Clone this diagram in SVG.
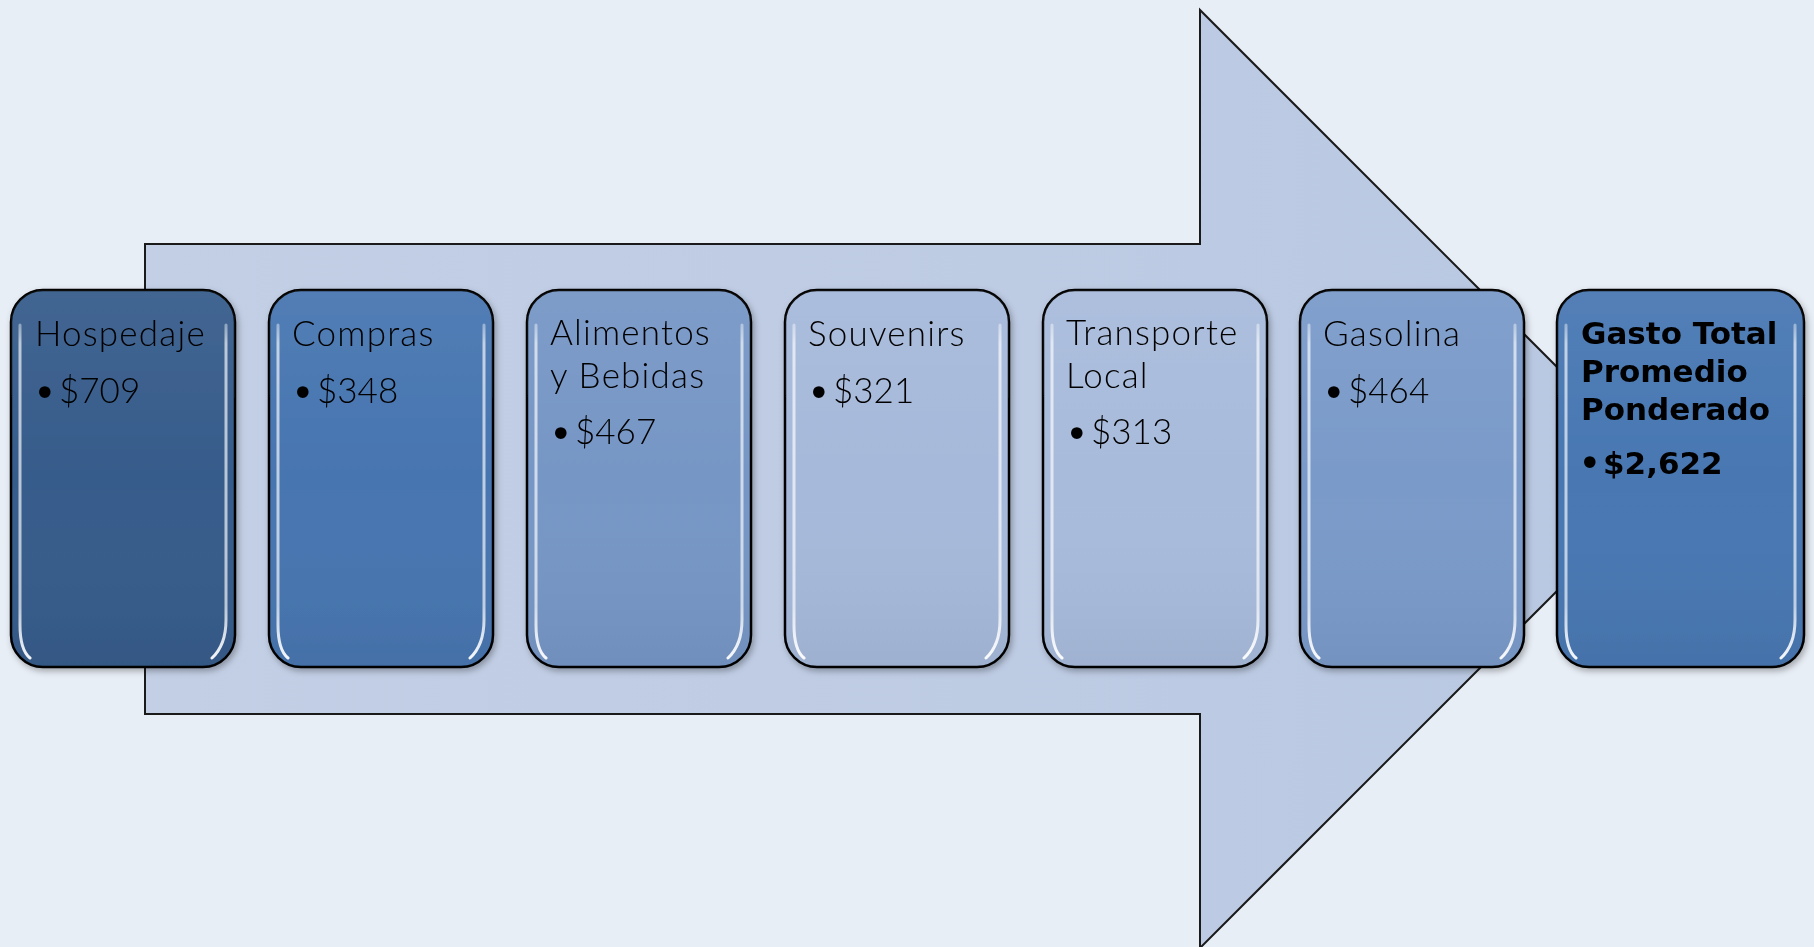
<svg xmlns="http://www.w3.org/2000/svg" width="1814" height="947" viewBox="0 0 1814 947">
<defs>
<style>
.lbl{font-family:Lato,"Open Sans","Liberation Sans",sans-serif;font-weight:300;font-size:35px;fill:#000}
.hd{letter-spacing:1.2px}
.bul{font-family:"DejaVu Sans",sans-serif;font-weight:normal;font-size:40px;letter-spacing:0}
.bold{font-family:"DejaVu Sans",sans-serif;font-weight:bold;font-size:31px;fill:#000}
.box{stroke:#000;stroke-width:2.5}
.hl{fill:none;stroke:url(#hlg);stroke-width:3;stroke-linecap:round}
</style>
<linearGradient id="arrowg" x1="0" y1="0" x2="1" y2="0">
<stop offset="0" stop-color="#c3cfe5"/>
<stop offset="1" stop-color="#b9c8e2"/>
</linearGradient>
<linearGradient id="hlg" gradientUnits="userSpaceOnUse" x1="0" y1="300" x2="0" y2="660">
<stop offset="0" stop-color="#ffffff" stop-opacity="0.1"/>
<stop offset="0.12" stop-color="#ffffff" stop-opacity="0.65"/>
<stop offset="0.85" stop-color="#ffffff" stop-opacity="0.65"/>
<stop offset="1" stop-color="#ffffff" stop-opacity="0.95"/>
</linearGradient>
<linearGradient id="shade" x1="0" y1="0" x2="0" y2="1">
<stop offset="0" stop-color="#ffffff" stop-opacity="0.06"/>
<stop offset="0.5" stop-color="#ffffff" stop-opacity="0"/>
<stop offset="1" stop-color="#000000" stop-opacity="0.05"/>
</linearGradient>
<filter id="sh" x="-10%" y="-10%" width="120%" height="120%">
<feDropShadow dx="2" dy="3" stdDeviation="3" flood-color="#000" flood-opacity="0.3"/>
</filter>
</defs>
<rect width="1814" height="947" fill="#e8eef6"/>
<g id="arrow">
<path d="M145,244 H1200 V10 L1669,479 L1200,948 V714 H145 Z" fill="url(#arrowg)" stroke="#1a1a1a" stroke-width="2"/>
</g>
<g id="connectors"></g>
<g id="hospedaje" filter="url(#sh)">
<rect class="box" x="11" y="290" width="224" height="377" rx="32" fill="#365c8b"/>
<rect x="11" y="290" width="224" height="377" rx="32" fill="url(#shade)"/>
<path class="hl" d="M20,325 V625 Q20,650 30,658 M226,325 V620 Q226,645 212,658"/>
<text class="lbl hd" x="35" y="346">Hospedaje</text>
<text class="lbl" y="403"><tspan class="bul" x="33" dy="4">•</tspan><tspan x="59" dy="-4">$709</tspan></text>
</g>
<g id="compras" filter="url(#sh)">
<rect class="box" x="269" y="290" width="224" height="377" rx="32" fill="#4775b0"/>
<rect x="269" y="290" width="224" height="377" rx="32" fill="url(#shade)"/>
<path class="hl" d="M278,325 V625 Q278,650 288,658 M484,325 V620 Q484,645 470,658"/>
<text class="lbl hd" x="292" y="346">Compras</text>
<text class="lbl" y="403"><tspan class="bul" x="291" dy="4">•</tspan><tspan x="317" dy="-4">$348</tspan></text>
</g>
<g id="alimentos" filter="url(#sh)">
<rect class="box" x="527" y="290" width="224" height="377" rx="32" fill="#7696c5"/>
<rect x="527" y="290" width="224" height="377" rx="32" fill="url(#shade)"/>
<path class="hl" d="M536,325 V625 Q536,650 546,658 M742,325 V620 Q742,645 728,658"/>
<text class="lbl hd" y="345"><tspan x="550">Alimentos</tspan><tspan x="550" dy="43">y Bebidas</tspan></text>
<text class="lbl" y="444"><tspan class="bul" x="549" dy="4">•</tspan><tspan x="575" dy="-4">$467</tspan></text>
</g>
<g id="souvenirs" filter="url(#sh)">
<rect class="box" x="785" y="290" width="224" height="377" rx="32" fill="#a6b9da"/>
<rect x="785" y="290" width="224" height="377" rx="32" fill="url(#shade)"/>
<path class="hl" d="M794,325 V625 Q794,650 804,658 M1000,325 V620 Q1000,645 986,658"/>
<text class="lbl hd" x="808" y="346">Souvenirs</text>
<text class="lbl" y="403"><tspan class="bul" x="807" dy="4">•</tspan><tspan x="833" dy="-4">$321</tspan></text>
</g>
<g id="transporte" filter="url(#sh)">
<rect class="box" x="1043" y="290" width="224" height="377" rx="32" fill="#a8bbdb"/>
<rect x="1043" y="290" width="224" height="377" rx="32" fill="url(#shade)"/>
<path class="hl" d="M1052,325 V625 Q1052,650 1062,658 M1258,325 V620 Q1258,645 1244,658"/>
<text class="lbl hd" y="345"><tspan x="1066">Transporte</tspan><tspan x="1066" dy="43">Local</tspan></text>
<text class="lbl" y="444"><tspan class="bul" x="1065" dy="4">•</tspan><tspan x="1091" dy="-4">$313</tspan></text>
</g>
<g id="gasolina" filter="url(#sh)">
<rect class="box" x="1300" y="290" width="224" height="377" rx="32" fill="#7a9ac9"/>
<rect x="1300" y="290" width="224" height="377" rx="32" fill="url(#shade)"/>
<path class="hl" d="M1309,325 V625 Q1309,650 1319,658 M1515,325 V620 Q1515,645 1501,658"/>
<text class="lbl hd" x="1323" y="346">Gasolina</text>
<text class="lbl" y="403"><tspan class="bul" x="1322" dy="4">•</tspan><tspan x="1348" dy="-4">$464</tspan></text>
</g>
<g id="total" filter="url(#sh)">
<rect class="box" x="1557" y="290" width="247" height="377" rx="32" fill="#4877b2"/>
<rect x="1557" y="290" width="247" height="377" rx="32" fill="url(#shade)"/>
<path class="hl" d="M1566,325 V625 Q1566,650 1576,658 M1795,325 V620 Q1795,645 1781,658"/>
<text class="bold" y="344"><tspan x="1581">Gasto Total</tspan><tspan x="1581" dy="38">Promedio</tspan><tspan x="1581" dy="38">Ponderado</tspan></text>
<text class="bold" y="474"><tspan class="bul" x="1578" dy="3">•</tspan><tspan x="1603" dy="-3">$2,622</tspan></text>
</g>
</svg>
